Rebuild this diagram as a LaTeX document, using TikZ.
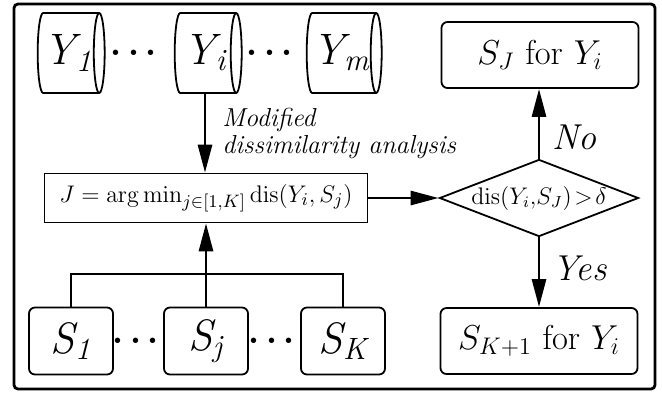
\documentclass[tikz,border=0pt]{standalone}
\usepackage{amsmath}
\usetikzlibrary{arrows.meta, shapes.geometric, positioning, calc}

\tikzset{
  frame/.style={draw, line width=1.4pt, rounded corners=2pt},
  dbnode/.style={cylinder, draw, line width=0.9pt, aspect=0.3, minimum width=40pt,
    minimum height=33.5pt, inner sep=0pt, font=\fontsize{22}{24}\selectfont\itshape},
  setnode/.style={draw, rounded corners=3pt, line width=0.9pt, minimum width=42pt,
    minimum height=33.5pt, inner sep=0pt, font=\fontsize{22}{24}\selectfont\itshape},
  outnode/.style={draw, rounded corners=3pt, line width=0.9pt, minimum width=98.5pt,
    minimum height=33pt, inner sep=0pt, font=\fontsize{18}{20}\selectfont},
  formbox/.style={draw, line width=0.8pt, minimum width=161.5pt, minimum height=24.5pt,
    inner sep=0pt, font=\fontsize{12.5}{14}\selectfont},
  testnode/.style={diamond, draw, line width=0.9pt, aspect=2.55, minimum width=99.5pt,
    inner sep=0pt, font=\fontsize{12}{14}\selectfont},
  dotsnode/.style={font=\fontsize{18}{20}\selectfont\boldmath, inner sep=0pt},
  flow/.style={-{Triangle[length=14pt,width=7pt]}, line width=1.4pt},
  bracketline/.style={line width=0.7pt},
  tag/.style={font=\fontsize{13}{13.5}\selectfont\itshape, align=left, inner sep=0pt},
  answer/.style={font=\fontsize{18}{19}\selectfont\itshape, inner sep=0pt}
}

\begin{document}
\begin{tikzpicture}[x=0.5pt, y=-0.5pt]
  \useasboundingbox (0,0) rectangle (662,393);
  \draw[frame] (14,4) rectangle (655,389);

  % input series
  \node[dbnode] (y1) at (68,53) {Y\textsubscript{1}};
  \node[dbnode] (yi) at (205,53) {Y\textsubscript{i}};
  \node[dbnode] (ym) at (341,53) {Y\textsubscript{m}};
  \node[dotsnode] (yd1) at (137,53) {$\cdots$};
  \node[dotsnode] (yd2) at (273,53) {$\cdots$};

  % existing states
  \node[setnode] (s1) at (71,341) {S\textsubscript{1}};
  \node[setnode] (sj) at (206,341) {S\textsubscript{j}};
  \node[setnode] (sk) at (343,341) {S\textsubscript{K}};
  \node[dotsnode] (sd1) at (139,341) {$\cdots$};
  \node[dotsnode] (sd2) at (275,341) {$\cdots$};

  \node[formbox] (argmin) at (206,198) {$J=\arg\min_{j\in[1,K]}\mathrm{dis}(Y_i,S_j)$};
  \node[testnode] (test) at (539,198) {$\mathrm{dis}(Y_i,\!S_J)\!>\!\delta$};
  \node[outnode] (keep) at (540,55) {$S_J\ \mathrm{for}\ Y_i$};
  \node[outnode] (new) at (539,341) {$S_{K+1}\ \mathrm{for}\ Y_i$};

  \coordinate (brk) at (206,274);
  \draw[bracketline] (s1.north) |- (brk) -| (sk.north);

  \draw[flow] (yi.south) -- node[tag, right=8pt] (modlbl) {Modified\\dissimilarity analysis} (yi.south |- argmin.north);
  \draw[flow] (sj.north) -- (argmin.south);
  \draw[flow] (argmin.east) -- (test.west);
  \draw[flow] (test.north) -- node[answer, pos=0.3, right=6pt] (nolbl) {No} (test.north |- keep.south);
  \draw[flow] (test.south) -- node[answer, pos=0.45, right=6pt] (yeslbl) {Yes} (new.north);
\end{tikzpicture}
\end{document}
